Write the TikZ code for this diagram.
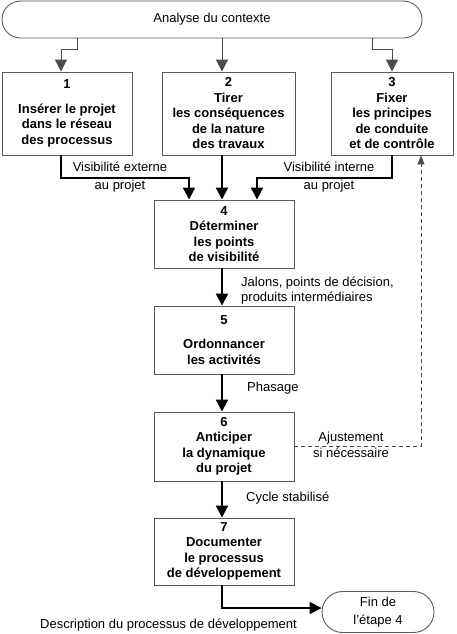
\documentclass[tikz,border=0pt]{standalone}
\usepackage{fontspec}
\setmainfont{Liberation Sans}
\usetikzlibrary{arrows.meta,shapes.misc}
\definecolor{boxgray}{gray}{0.35}
\definecolor{linegray}{gray}{0.3}
\begin{document}
\begin{tikzpicture}[x=1pt,y=-1pt,
  every node/.style={font=\fontsize{13}{15.5}\selectfont, inner sep=0pt},
  stepbox/.style={draw=boxgray, line width=0.9pt, align=center,
    font=\bfseries\fontsize{13}{15.5}\selectfont},
  pill/.style={draw=boxgray, line width=0.9pt, rounded rectangle, align=center},
  tarrow/.style={draw=linegray, line width=1pt, -{Triangle[width=12pt,length=12pt]}},
  karrow/.style={draw=black, line width=2pt, -{Triangle[width=12pt,length=12pt]}},
  darrow/.style={draw=linegray, line width=0.9pt, dash pattern=on 4pt off 3pt,
    -{Triangle[width=7pt,length=9pt]}},
  lab/.style={align=center}]
\useasboundingbox (0,0) rectangle (456,634);

\node[pill, minimum width=420, minimum height=37] (top) at (212,19.5) {Analyse du contexte};

\node[stepbox, minimum width=130, minimum height=83] (b1) at (67,113.5)
  {1\\[9pt]Insérer le projet\\dans le réseau\\des processus};
\node[stepbox, minimum width=133, minimum height=83] (b2) at (228.5,113.5)
  {2\\Tirer\\les conséquences\\de la nature\\des travaux};
\node[stepbox, minimum width=122, minimum height=83] (b3) at (392,113.5)
  {3\\Fixer\\les principes\\de conduite\\et de contrôle};
\node[stepbox, minimum width=140, minimum height=68] (b4) at (224,234)
  {4\\Déterminer\\les points\\de visibilité};
\node[stepbox, minimum width=140, minimum height=68] (b5) at (224,340)
  {5\\[9pt]Ordonnancer\\les activités};
\node[stepbox, minimum width=140, minimum height=69] (b6) at (224,446.5)
  {6\\Anticiper\\la dynamique\\du projet};
\node[stepbox, minimum width=140, minimum height=67] (b7) at (224,551.5)
  {7\\Documenter\\le processus\\de développement};
\node[pill, minimum width=112, minimum height=41] (fin) at (378,612) {Fin de\\[3pt]l'étape 4};

% labels
\node[lab] (lext) at (120,177) {Visibilité externe\\[2.5pt]au projet};
\node[lab] (lint) at (329,177) {Visibilité interne\\[2.5pt]au projet};
\node[align=left, anchor=west] (ljal) at (241,290.5) {Jalons, points de décision,\\produits intermédiaires};
\node[anchor=west] (lpha) at (247,388) {Phasage};
\node[lab] (laju) at (351,445) {Ajustement\\si nécessaire};
\node[anchor=west] (lcyc) at (246,498) {Cycle stabilisé};
\node[anchor=west] (ldes) at (40,625) {Description du processus de développement};

% connectors from the context analysis
\draw[tarrow] ([xshift=-135pt]top.south) |- ([xshift=-6pt,yshift=22pt]b1.north) -- ([xshift=-6pt]b1.north);
\draw[tarrow] ([xshift=10pt]top.south) -- ([xshift=-6.5pt]b2.north);
\draw[tarrow] ([xshift=160pt]top.south) |- ([yshift=22pt]b3.north) -- (b3.north);

% into step 4
\draw[karrow] ([xshift=-6pt]b1.south) |- ([xshift=-35pt,yshift=22pt]b4.north) -- ([xshift=-35pt]b4.north);
\draw[karrow] ([xshift=-6.5pt]b2.south) -- ([xshift=-2pt]b4.north);
\draw[karrow] (b3.south) |- ([xshift=33pt,yshift=22pt]b4.north) -- ([xshift=33pt]b4.north);

% main chain
\draw[karrow] ([xshift=-2pt]b4.south) -- ([xshift=-2pt]b5.north);
\draw[karrow] ([xshift=-2pt]b5.south) -- ([xshift=-2pt]b6.north);
\draw[karrow] ([xshift=-2pt]b6.south) -- ([xshift=-2pt]b7.north);
\draw[karrow] ([xshift=-2pt]b7.south) |- ([yshift=4pt]fin.west);

% feedback
\draw[darrow] (b6.east) -| ([xshift=29pt]b3.south);
\end{tikzpicture}
\end{document}
